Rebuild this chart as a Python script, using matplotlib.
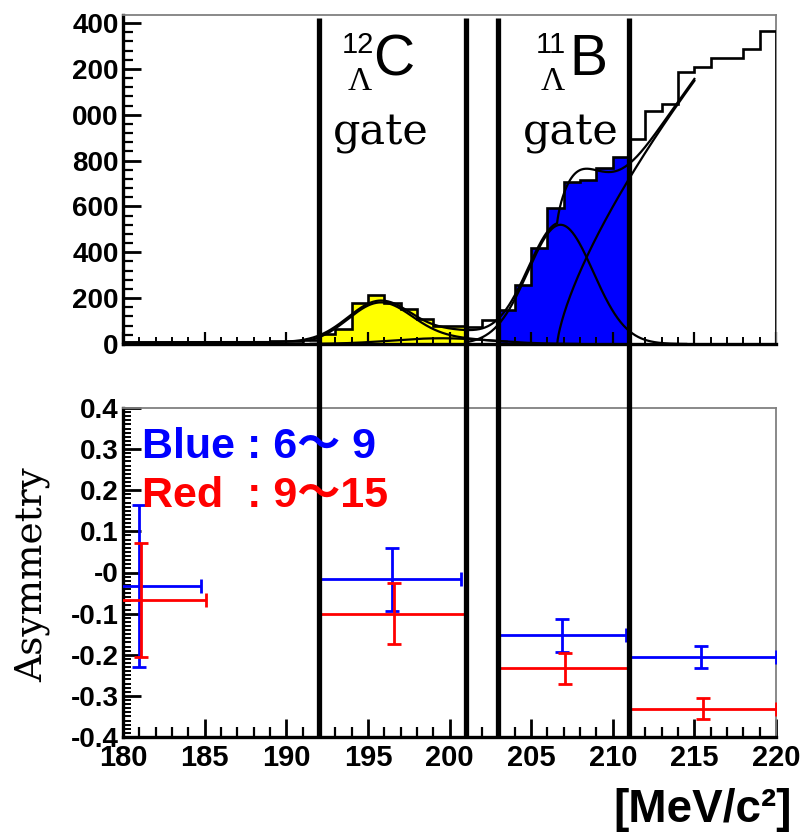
import numpy as np
import matplotlib
matplotlib.use("Agg")
import matplotlib.pyplot as plt
from matplotlib.ticker import MultipleLocator, FixedLocator, FixedFormatter
from matplotlib.transforms import blended_transform_factory
from matplotlib.lines import Line2D

# ---------------- data ----------------
hist_edges = list(range(180, 221))
hist_counts = [5, 5, 6, 5, 6, 7, 6, 8, 10, 12, 14, 18,            # 180-192
               43, 65, 181, 213, 181, 152, 109, 80, 80, 74, 106,  # 192-203
               148, 257, 417, 592, 708, 715, 766, 817,            # 203-211
               895, 1016, 1045, 1185, 1209, 1246, 1246, 1286, 1365]  # 211-220

c_gate = (192, 201)
b_gate = (203, 211)
gate_lines = [192, 201, 203, 211]

# fit components (amplitude, mean, sigma)
fit_bg = 8
fit_c = (170, 195.7, 1.95)
fit_c2 = (20, 200.5, 1.5)
fit_bump = (25, 199.5, 3.0)
fit_b = (520, 206.8, 2.0)
fit_rise = (248, 206.6, 0.72)   # amplitude, threshold, exponent
fit_range = (180, 215)

top_ticks = [0, 200, 400, 600, 800, 1000, 1200, 1400]
top_ticklabels = ["0", "200", "400", "600", "800", "000", "200", "400"]

blue_x = [181.0, 196.5, 206.9, 215.4]
blue_xlo = [176.0, 192.0, 203.0, 211.0]
blue_xhi = [184.8, 200.7, 210.8, 220.0]
blue_y = [-0.034, -0.017, -0.153, -0.206]
blue_yerr = [0.197, 0.077, 0.040, 0.027]

red_x = [181.1, 196.6, 207.1, 215.5]
red_xlo = [176.0, 192.0, 203.0, 211.0]
red_xhi = [185.1, 201.1, 211.0, 220.0]
red_y = [-0.067, -0.100, -0.233, -0.331]
red_yerr = [0.139, 0.074, 0.038, 0.026]

asym_ticks = [-0.4, -0.3, -0.2, -0.1, 0.0, 0.1, 0.2, 0.3, 0.4]
asym_ticklabels = ["-0.4", "-0.3", "-0.2", "-0.1", "-0", "0.1", "0.2", "0.3", "0.4"]
x_ticks = [180, 185, 190, 195, 200, 205, 210, 215, 220]

# ---------------- helpers ----------------
W, H = 803, 833
def fx(px): return px / W
def fy(py): return 1 - py / H

def gauss(x, p):
    a, m, s = p
    return a * np.exp(-(x - m) ** 2 / (2 * s ** 2))

def rise(x, p):
    a, x0, k = p
    return np.where(x > x0, a * np.clip(x - x0, 0, None) ** k, 0.0)

SANS = ["Liberation Sans", "DejaVu Sans"]

fig = plt.figure(figsize=(W / 100, H / 100), dpi=100)
ax1 = fig.add_axes([fx(123), fy(344), (776 - 123) / W, (344 - 15) / H])
ax2 = fig.add_axes([fx(123), fy(737), (776 - 123) / W, (737 - 408) / H])

# ---------------- top panel ----------------
edges = np.array(hist_edges, dtype=float)
counts = np.array(hist_counts, dtype=float)
ci = slice(hist_edges.index(c_gate[0]), hist_edges.index(c_gate[1]))
bi = slice(hist_edges.index(b_gate[0]), hist_edges.index(b_gate[1]))
ax1.stairs(counts[ci], edges[ci.start:ci.stop + 1], fill=True, color="#ffff00", zorder=1)
ax1.stairs(counts[bi], edges[bi.start:bi.stop + 1], fill=True, color="#0000ff", zorder=1)
ax1.stairs(counts, edges, color="black", lw=1.9, zorder=3)

xf = np.linspace(fit_range[0], fit_range[1], 800)
total = fit_bg + gauss(xf, fit_c) + gauss(xf, fit_c2) + gauss(xf, fit_bump) + gauss(xf, fit_b) + rise(xf, fit_rise)
ax1.plot(xf, total, color="black", lw=1.6, zorder=4)

xc = np.linspace(191.5, 203.5, 300)
ax1.plot(xc, gauss(xc, fit_c) + gauss(xc, fit_bump), color="black", lw=1.6, zorder=4)
xbmp = np.linspace(191.5, 208, 300)
ax1.plot(xbmp, gauss(xbmp, fit_bump), color="black", lw=1.6, zorder=4)
xb = np.linspace(201, 214.5, 300)
ax1.plot(xb, gauss(xb, fit_b), color="black", lw=1.6, zorder=4)
xr = np.linspace(fit_rise[1], 215, 300)
ax1.plot(xr, rise(xr, fit_rise), color="black", lw=1.6, zorder=4)

ax1.set_xlim(180, 220)
ax1.set_ylim(0, 1435)
ax1.yaxis.set_major_locator(FixedLocator(top_ticks))
ax1.yaxis.set_major_formatter(FixedFormatter(top_ticklabels))
ax1.yaxis.set_minor_locator(MultipleLocator(40))
ax1.xaxis.set_major_locator(MultipleLocator(5))
ax1.xaxis.set_minor_locator(MultipleLocator(1))
ax1.tick_params(axis="y", which="major", direction="in", length=13, width=2, pad=3,
                labelsize=20)
ax1.tick_params(axis="y", which="minor", direction="in", length=7, width=1.6)
ax1.tick_params(axis="x", which="major", direction="in", length=9, width=1.6, labelbottom=False)
ax1.tick_params(axis="x", which="minor", direction="in", length=5, width=1.4)

# ---------------- bottom panel ----------------
def draw_err(ax, x, lo, hi, y, ye, color):
    x = np.array(x); lo = np.array(lo); hi = np.array(hi)
    ax.errorbar(x, y, xerr=[x - lo, hi - x], yerr=ye, fmt="none", ecolor=color,
                elinewidth=2.0, capsize=5, capthick=2.0, zorder=3)

draw_err(ax2, blue_x, blue_xlo, blue_xhi, blue_y, blue_yerr, "#0000ff")
draw_err(ax2, red_x, red_xlo, red_xhi, red_y, red_yerr, "#ff0000")

ax2.set_xlim(180, 220)
ax2.set_ylim(-0.4, 0.4)
ax2.yaxis.set_major_locator(FixedLocator(asym_ticks))
ax2.yaxis.set_major_formatter(FixedFormatter(asym_ticklabels))
ax2.yaxis.set_minor_locator(MultipleLocator(0.01))
ax2.xaxis.set_major_locator(FixedLocator(x_ticks))
ax2.xaxis.set_minor_locator(MultipleLocator(1))
ax2.tick_params(axis="y", which="major", direction="in", length=13, width=2, pad=3,
                labelsize=20)
ax2.tick_params(axis="y", which="minor", direction="in", length=6, width=1.4)
ax2.tick_params(axis="x", which="major", direction="in", length=13, width=2, pad=5,
                labelsize=21)
ax2.tick_params(axis="x", which="minor", direction="in", length=7, width=1.6)

for ax in (ax1, ax2):
    for s in ("left", "bottom"):
        ax.spines[s].set_linewidth(2.4)
        ax.spines[s].set_color("black")
    for s in ("top", "right"):
        ax.spines[s].set_linewidth(1.3)
        ax.spines[s].set_color("#808080")
    for lab in ax.get_xticklabels() + ax.get_yticklabels():
        lab.set_fontweight("bold")
        lab.set_family(SANS)

# ---------------- gate lines spanning both panels ----------------
trans = blended_transform_factory(ax2.transData, fig.transFigure)
for g in gate_lines:
    fig.add_artist(Line2D([g, g], [fy(737), fy(18)], transform=trans, color="black",
                          lw=3.8, solid_capstyle="butt", zorder=10))

# ---------------- texts ----------------
fig.text(fx(342), fy(53), "12", fontsize=21, family=SANS, ha="left", va="baseline")
fig.text(fx(373), fy(75), "C", fontsize=41, family=SANS, ha="left", va="baseline")
fig.text(fx(360), fy(90), "Λ", fontsize=24, family=["Liberation Serif", "DejaVu Serif"],
         ha="center", va="baseline")
fig.text(fx(381), fy(144), "gate", fontsize=31, family="DejaVu Serif", ha="center",
         va="baseline")

fig.text(fx(536), fy(53), "11", fontsize=21, family=SANS, ha="left", va="baseline")
fig.text(fx(569), fy(75), "B", fontsize=41, family=SANS, ha="left", va="baseline")
fig.text(fx(553), fy(90), "Λ", fontsize=24, family=["Liberation Serif", "DejaVu Serif"],
         ha="center", va="baseline")
fig.text(fx(571), fy(144), "gate", fontsize=31, family="DejaVu Serif", ha="center",
         va="baseline")

fig.text(fx(142), fy(458), "Blue : 6〜 9", fontsize=31, fontweight="bold",
         family=["Liberation Sans", "Noto Sans CJK JP"], color="#0000ff",
         ha="left", va="baseline", zorder=12)
fig.text(fx(142), fy(507), "Red  : 9〜15", fontsize=31, fontweight="bold",
         family=["Liberation Sans", "Noto Sans CJK JP"], color="#ff0000",
         ha="left", va="baseline", zorder=12)

fig.text(fx(32), fy(575), "Asymmetry", fontsize=27, family="DejaVu Serif",
         rotation=90, ha="center", va="center")

fig.text(fx(792), fy(822), "[MeV/c²]", fontsize=33, fontweight="bold", family=SANS,
         ha="right", va="baseline")

fig.savefig("out.png", dpi=100)
